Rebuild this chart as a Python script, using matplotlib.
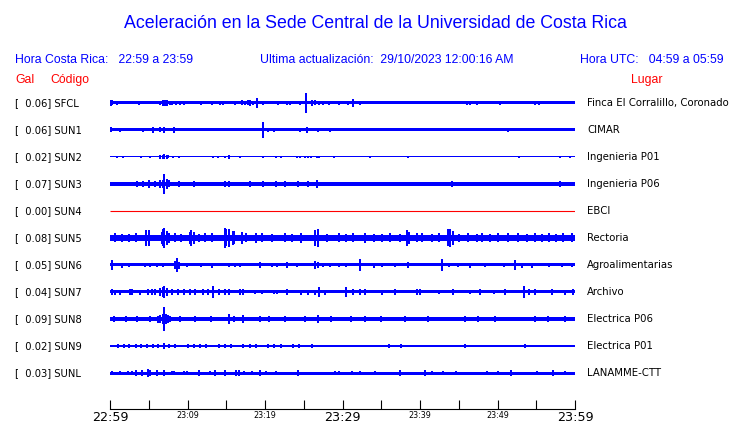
import matplotlib
matplotlib.use("Agg")
import matplotlib.pyplot as plt
import numpy as np

# ---------------- datos ----------------
codes = ["SFCL", "SUN1", "SUN2", "SUN3", "SUN4", "SUN5",
         "SUN6", "SUN7", "SUN8", "SUN9", "SUNL"]
gals = [0.06, 0.06, 0.02, 0.07, 0.00, 0.08, 0.05, 0.04, 0.09, 0.02, 0.03]
places = ["Finca El Corralillo, Coronado", "CIMAR", "Ingenieria P01",
          "Ingenieria P06", "EBCI", "Rectoria", "Agroalimentarias",
          "Archivo", "Electrica P06", "Electrica P01", "LANAMME-CTT"]

# ancho del ruido base (px) por estacion
base_noise = [1.5, 1.5, 0.5, 1.8, 0.0, 3.4, 1.5, 1.5, 1.8, 0.5, 1.5]

# picos: (minuto desde 22:59, semi-amplitud en px)
spikes_sfcl = [(0.1, 3.0), (0.3, 2.5), (0.9, 2.4), (3.7, 2.4), (6.5, 2.4), (6.8, 2.6),
               (7.1, 2.8), (7.4, 2.6), (7.7, 2.4), (8.0, 2.4), (8.5, 2.4), (9.0, 2.4),
               (9.5, 2.4), (11.8, 2.4), (13.1, 2.4), (14.2, 2.4), (14.6, 2.4), (16.1, 2.4),
               (17.0, 2.5), (17.4, 2.4), (17.8, 2.5), (18.1, 2.6), (18.5, 2.4), (19.0, 5.0),
               (19.8, 2.4), (21.7, 2.4), (22.8, 2.4), (23.2, 2.4), (24.5, 2.4), (25.3, 10.0),
               (26.0, 2.6), (26.5, 2.5), (27.0, 2.4), (27.5, 2.4), (28.2, 2.4), (29.5, 2.4),
               (30.7, 2.4), (31.3, 4.3), (32.3, 2.4), (46.0, 2.4), (46.5, 2.4), (47.3, 2.4),
               (50.3, 2.4), (54.8, 2.4), (55.3, 2.4)]
spikes_sun1 = [(0.1, 2.5), (1.3, 2.4), (4.2, 2.4), (5.5, 2.8), (6.5, 2.5), (7.0, 3.0),
               (8.2, 3.0), (19.8, 8.0), (20.4, 2.4), (21.1, 2.4), (24.5, 2.4), (25.4, 2.6),
               (26.9, 2.4), (28.4, 2.4), (51.4, 2.4)]
spikes_sun2 = [(0.9, 1.0), (1.7, 0.8), (4.0, 1.0), (5.2, 1.3), (6.5, 1.7), (6.8, 1.7),
               (7.0, 2.5), (7.3, 1.7), (7.5, 1.5), (8.1, 1.0), (8.9, 1.0), (13.3, 0.8),
               (13.9, 1.0), (14.8, 1.3), (15.4, 1.7), (16.8, 1.3), (19.8, 1.0), (21.4, 0.8),
               (22.0, 1.0), (24.1, 1.0), (24.5, 1.0), (25.1, 0.8), (25.5, 1.0), (25.9, 1.3),
               (26.7, 1.3), (27.0, 1.0), (28.9, 1.3), (33.5, 1.0), (38.5, 1.0), (52.8, 1.0),
               (58.0, 1.3), (59.4, 1.3)]
spikes_sun3 = [(3.5, 2.6), (4.2, 2.6), (5.0, 4.0), (5.8, 2.6), (6.5, 4.0), (6.8, 4.0),
               (7.0, 10.0), (7.3, 5.0), (7.6, 3.5), (8.9, 2.6), (10.8, 3.0), (14.8, 3.3),
               (15.4, 3.0), (18.1, 2.6), (19.7, 2.6), (21.4, 2.6), (22.6, 2.6), (24.3, 2.6),
               (25.5, 2.6), (26.7, 4.0), (44.1, 2.6), (58.0, 2.6)]
spikes_sun4 = []
spikes_sun5 = [(0.6, 4.5), (1.5, 4.2), (2.4, 4.2), (3.4, 4.5), (4.7, 8.0), (5.0, 8.0),
               (6.7, 6.0), (6.9, 8.5), (7.0, 10.0), (7.3, 7.0), (7.6, 5.0), (8.4, 4.5),
               (9.2, 4.2), (10.3, 6.0), (10.5, 8.0), (10.8, 6.0), (11.5, 4.2), (12.3, 4.5),
               (13.1, 4.5), (14.8, 10.0), (15.0, 8.5), (15.3, 9.0), (15.9, 7.0), (16.0, 6.5),
               (17.0, 6.0), (17.6, 4.5), (18.9, 5.0), (19.6, 4.5), (20.9, 4.2), (22.6, 4.5),
               (23.5, 4.2), (24.7, 5.0), (26.5, 8.0), (26.8, 9.0), (28.0, 4.2), (29.5, 4.5),
               (30.5, 4.2), (31.4, 4.5), (32.9, 5.0), (34.0, 4.2), (35.1, 4.2), (36.1, 4.5),
               (37.4, 4.2), (38.3, 8.0), (38.6, 6.0), (39.6, 4.5), (40.2, 4.5), (41.5, 4.2),
               (42.4, 4.5), (43.6, 8.5), (43.9, 9.0), (44.3, 7.0), (45.0, 4.2), (46.2, 4.5),
               (47.3, 4.2), (48.0, 4.5), (49.0, 4.2), (50.1, 4.5), (51.4, 4.5), (52.7, 4.5),
               (53.8, 4.2), (54.8, 4.5), (55.7, 4.2), (56.6, 4.5), (57.5, 4.2), (58.5, 4.5),
               (59.6, 4.5)]
spikes_sun6 = [(0.3, 5.0), (1.5, 2.5), (2.4, 2.4), (4.5, 2.4), (5.2, 2.4), (6.0, 2.4),
               (6.8, 2.4), (8.4, 4.0), (8.7, 7.0), (8.9, 3.5), (9.9, 2.4), (11.8, 2.4),
               (13.1, 2.5), (15.3, 2.4), (16.1, 2.4), (16.8, 2.4), (19.4, 2.7), (20.9, 2.4),
               (21.5, 2.4), (22.9, 3.0), (24.1, 2.4), (26.5, 4.0), (26.8, 3.0), (27.5, 2.4),
               (28.4, 2.4), (29.5, 2.4), (30.5, 2.4), (32.3, 6.0), (34.0, 2.5), (35.1, 2.4),
               (36.8, 2.4), (38.5, 2.7), (42.9, 5.7), (43.7, 2.4), (44.9, 2.4), (46.5, 2.5),
               (48.4, 2.4), (50.8, 2.4), (52.2, 5.3), (53.1, 2.5), (54.4, 2.5), (56.6, 2.4),
               (58.3, 2.4), (59.6, 2.4)]
spikes_sun7 = [(0.2, 3.3), (0.6, 2.5), (1.3, 2.5), (2.6, 3.0), (2.8, 3.0), (3.9, 2.5),
               (4.9, 2.7), (5.4, 2.7), (5.8, 2.7), (6.5, 4.0), (6.8, 5.0), (7.0, 6.0),
               (7.3, 4.0), (8.0, 2.7), (8.8, 2.7), (9.5, 2.7), (10.3, 2.7), (11.0, 2.7),
               (12.0, 2.7), (12.7, 2.7), (13.3, 6.0), (14.0, 2.7), (14.8, 2.7), (15.3, 2.7),
               (16.8, 3.0), (17.2, 3.0), (18.7, 2.4), (19.6, 2.4), (21.1, 2.4), (21.5, 2.4),
               (22.8, 2.7), (24.7, 2.5), (25.5, 2.5), (26.5, 2.5), (27.0, 5.0), (27.7, 2.5),
               (30.5, 5.0), (31.4, 3.0), (32.3, 3.0), (32.9, 3.0), (35.1, 2.5), (36.8, 2.7),
               (39.6, 3.0), (40.0, 3.0), (42.4, 2.4), (44.3, 2.7), (46.5, 2.4), (47.7, 3.0),
               (49.5, 2.4), (51.0, 2.7), (53.4, 6.0), (54.0, 3.0), (54.8, 3.0), (57.0, 2.7),
               (58.7, 2.5), (59.8, 2.7)]
spikes_sun8 = [(0.5, 2.7), (2.0, 2.7), (3.5, 2.7), (5.2, 3.3), (6.2, 3.5), (6.5, 4.5),
               (6.8, 5.0), (7.0, 12.0), (7.2, 5.0), (7.5, 4.0), (7.7, 3.0), (9.0, 2.7),
               (11.0, 2.7), (13.0, 2.7), (15.3, 5.3), (16.0, 2.7), (17.2, 3.7), (19.4, 2.7),
               (20.5, 2.7), (22.6, 2.6), (25.2, 2.6), (26.8, 3.7), (28.5, 2.7), (31.1, 2.7),
               (32.9, 2.6), (35.0, 2.6), (38.0, 2.6), (41.0, 2.6), (45.8, 2.6), (47.5, 2.6),
               (49.7, 2.6), (54.8, 2.6), (56.5, 2.6), (58.7, 2.6)]
spikes_sun9 = [(0.5, 1.4), (1.0, 1.6), (1.8, 1.6), (2.5, 1.6), (3.3, 1.6), (4.0, 1.6),
               (4.8, 1.6), (5.5, 1.6), (6.2, 1.6), (7.0, 3.3), (7.6, 1.6), (8.4, 1.6),
               (9.2, 1.4), (10.0, 1.6), (10.8, 1.6), (11.6, 1.6), (12.4, 1.6), (13.2, 1.4),
               (14.0, 1.6), (14.8, 1.6), (15.6, 1.6), (16.4, 1.4), (17.2, 1.6), (18.0, 1.6),
               (18.8, 1.6), (19.6, 1.4), (20.4, 1.6), (21.2, 1.6), (22.0, 1.6), (22.8, 1.4),
               (23.6, 1.6), (24.4, 1.6), (25.2, 1.4), (26.0, 1.6), (27.0, 1.4), (28.2, 1.4),
               (29.4, 1.4), (30.3, 1.4), (31.6, 1.4), (32.4, 1.4), (33.3, 1.4), (35.1, 1.4),
               (36.0, 1.6), (37.6, 1.6), (39.1, 1.4), (42.2, 1.4), (43.2, 1.4), (45.8, 1.6),
               (46.5, 1.4), (47.8, 1.4), (49.4, 1.4), (51.5, 1.4), (52.6, 1.4), (53.5, 1.6),
               (57.9, 1.4), (58.6, 1.4), (59.4, 1.4)]
spikes_sunl = [(0.3, 2.4), (1.3, 2.4), (2.3, 2.4), (2.9, 2.4), (3.4, 2.5), (4.1, 3.3),
               (4.9, 3.7), (5.2, 3.0), (6.0, 2.5), (7.0, 3.0), (8.0, 2.4), (8.3, 2.4),
               (9.5, 2.4), (9.9, 2.4), (11.5, 2.5), (12.9, 2.4), (13.6, 2.5), (14.8, 2.6),
               (16.3, 3.3), (16.6, 2.8), (17.3, 2.4), (18.3, 2.4), (19.3, 2.6), (20.1, 2.4),
               (21.4, 2.4), (24.2, 3.3), (29.0, 2.4), (29.5, 2.4), (31.2, 2.4), (32.3, 2.4),
               (34.2, 2.4), (37.4, 2.6), (40.6, 2.5), (41.5, 2.4), (43.0, 2.4), (44.7, 2.4),
               (48.7, 2.4), (50.1, 2.4), (51.7, 3.3), (55.1, 2.4), (57.2, 2.8), (58.7, 2.4)]

traces = [spikes_sfcl, spikes_sun1, spikes_sun2, spikes_sun3, spikes_sun4, spikes_sun5,
          spikes_sun6, spikes_sun7, spikes_sun8, spikes_sun9, spikes_sunl]

tick_minutes = list(range(0, 61, 5))
tick_labels = ["22:59", "", "23:09", "", "23:19", "", "23:29",
               "", "23:39", "", "23:49", "", "23:59"]
big_labels = ["22:59", "23:29", "23:59"]

# ---------------- estilo ----------------
BLUE = "#0000FF"
RED = "#FF0000"
W, H = 740, 423
PX = 1 / 27.0          # px -> unidades de fila
HEAD = "Liberation Sans"

fig = plt.figure(figsize=(W / 100, H / 100), dpi=100)
ax = fig.add_axes([110 / W, 1 - 409 / H, 465 / W, (409 - 88) / H])

for i, sp in enumerate(traces):
    b = base_noise[i] * PX
    if b > 0:
        ax.fill_between([0, 60], i - b, i + b, color=BLUE, lw=0, antialiased=False)
    else:
        ax.hlines(i, 0, 60, color=RED, lw=0.8)
    if sp:
        m = np.array([s[0] for s in sp])
        a = np.array([s[1] for s in sp]) * PX
        ax.vlines(m, i - a, i + a, color=BLUE, lw=1.3, antialiased=False)

    ax.text(-95 / 465, i, f"[  {gals[i]:.2f}] {codes[i]}", transform=ax.get_yaxis_transform(),
            va="center", ha="left", fontsize=7.2, color="black")
    ax.text(1 + 12 / 465, i, places[i], transform=ax.get_yaxis_transform(),
            va="center", ha="left", fontsize=7.3, color="black")

ax.set_xlim(0, 60)
ax.set_ylim((409 - 103) / 27, (88 - 103) / 27)
ax.set_yticks([])
ax.set_xticks(tick_minutes)
ax.set_xticklabels(tick_labels)
for lbl in ax.get_xticklabels():
    lbl.set_fontsize(9.2 if lbl.get_text() in big_labels else 5.8)
ax.tick_params(axis="x", direction="in", length=6.5, width=0.8, pad=1.5)
for s in ["top", "left", "right"]:
    ax.spines[s].set_visible(False)
ax.spines["bottom"].set_linewidth(0.8)

# ---------------- encabezados ----------------
fig.text(375 / W, 1 - 23 / H, "Aceleración en la Sede Central de la Universidad de Costa Rica",
         ha="center", va="center", fontsize=12.8, color=BLUE, family=HEAD)
fig.text(15 / W, 1 - 60 / H, "Hora Costa Rica:   22:59 a 23:59", ha="left", va="center",
         fontsize=8.8, color=BLUE, family=HEAD)
fig.text(260 / W, 1 - 60 / H, "Ultima actualización:  29/10/2023 12:00:16 AM", ha="left",
         va="center", fontsize=8.8, color=BLUE, family=HEAD)
fig.text(724 / W, 1 - 60 / H, "Hora UTC:   04:59 a 05:59", ha="right", va="center",
         fontsize=8.8, color=BLUE, family=HEAD)
fig.text(15 / W, 1 - 80 / H, "Gal", ha="left", va="center", fontsize=8.8, color=RED, family=HEAD)
fig.text(50 / W, 1 - 80 / H, "Código", ha="left", va="center", fontsize=8.8, color=RED, family=HEAD)
fig.text(662 / W, 1 - 80 / H, "Lugar", ha="right", va="center", fontsize=8.8, color=RED, family=HEAD)

fig.savefig("out.png", dpi=100)
